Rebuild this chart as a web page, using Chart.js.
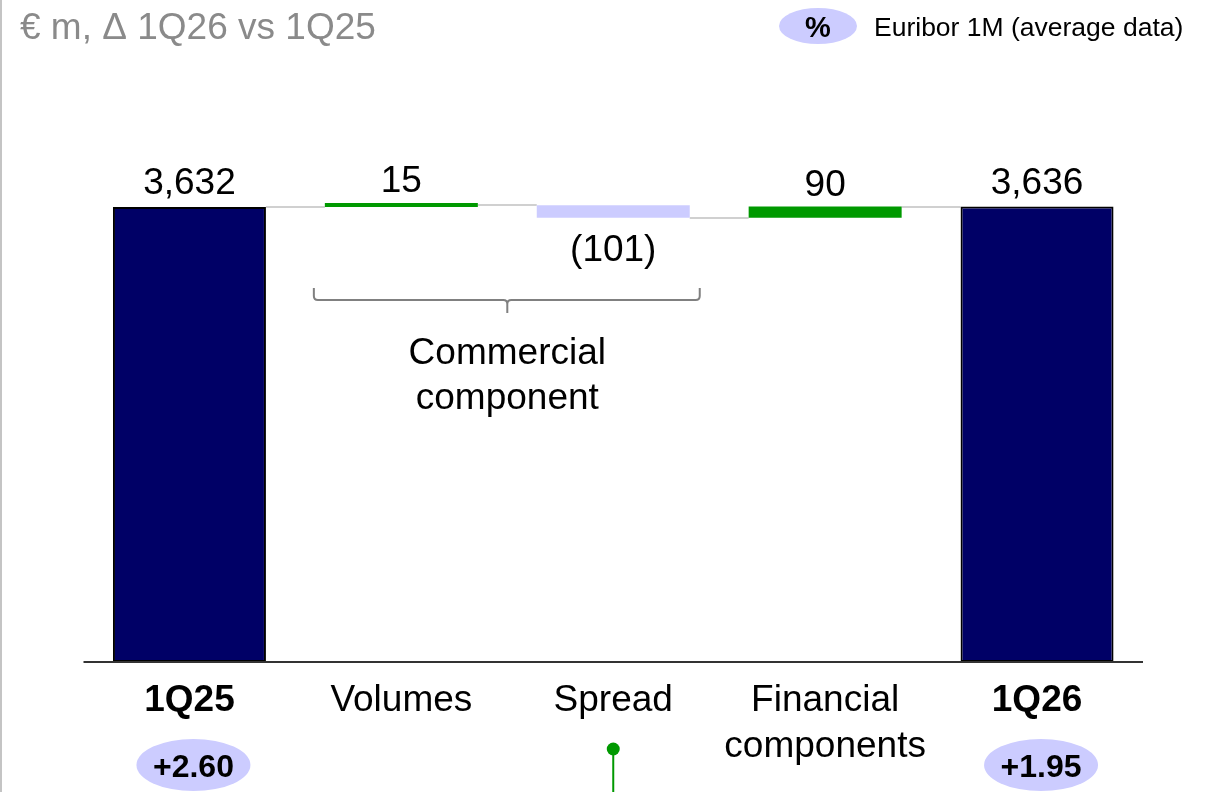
<!DOCTYPE html>
<html>
<head>
<meta charset="utf-8">
<script src="https://cdn.jsdelivr.net/npm/chart.js@4.4.1/dist/chart.umd.min.js"></script>
<style>
  html, body { margin: 0; padding: 0; background: #ffffff; }
  #wrap { width: 1207px; height: 792px; position: relative; }
</style>
</head>
<body>
<div id="wrap"><canvas id="nii" width="1207" height="792"></canvas></div>
<script>
// Net interest income bridge, € m
const categories = ['1Q25', 'Volumes', 'Spread', ['Financial', 'components'], '1Q26'];
const values = [3632, 15, -101, 90, 3636];
const isTotal = [true, false, false, false, true];
const euribor = ['+2.60', null, null, null, '+1.95'];
const titleText = '€ m, \u0394 1Q26 vs 1Q25';
const legendSymbol = '%';
const legendText = 'Euribor 1M (average data)';
const groupLabel = ['Commercial', 'component'];
const groupFrom = 1;
const groupTo = 2;
const markerCategory = 2;

const FONT = "'Liberation Sans', Arial, Helvetica, sans-serif";
const NAVY = '#000066';
const GREEN = '#009900';
const LAVENDER = '#ccccff';

// Floating ranges for the waterfall, built from the values
const ranges = [];
const levels = [];
let running = 0;
values.forEach((v, i) => {
  if (isTotal[i]) {
    ranges.push([0, v]);
    running = v;
  } else {
    ranges.push([running, running + v]);
    running += v;
  }
  levels.push(running);
});

const colors = values.map((v, i) => isTotal[i] ? NAVY : (v >= 0 ? GREEN : LAVENDER));

function fmt(v, i) {
  if (isTotal[i]) return v.toLocaleString('en-US');
  return v < 0 ? '(' + Math.abs(v) + ')' : String(v);
}

const bridgePlugin = {
  id: 'bridge',
  beforeDatasetsDraw(chart) {
    const ctx = chart.ctx;
    const meta = chart.getDatasetMeta(0);
    const y = chart.scales.y;
    ctx.save();
    ctx.strokeStyle = '#d0d0d0';
    ctx.lineWidth = 2;
    for (let i = 0; i < meta.data.length - 1; i++) {
      const a = meta.data[i], b = meta.data[i + 1];
      const py = Math.round(y.getPixelForValue(levels[i]));
      ctx.beginPath();
      ctx.moveTo(a.x + a.width / 2, py);
      ctx.lineTo(b.x - b.width / 2, py);
      ctx.stroke();
    }
    ctx.restore();
  },
  afterDraw(chart) {
    const ctx = chart.ctx;
    const meta = chart.getDatasetMeta(0);
    const area = chart.chartArea;
    const y = chart.scales.y;
    ctx.save();

    // frame line on the left
    ctx.strokeStyle = '#c4c4c4';
    ctx.lineWidth = 2;
    ctx.beginPath();
    ctx.moveTo(1, 0);
    ctx.lineTo(1, chart.height);
    ctx.stroke();

    // base line
    ctx.strokeStyle = '#333333';
    ctx.lineWidth = 2;
    const baseY = y.getPixelForValue(0);
    ctx.beginPath();
    ctx.moveTo(area.left, baseY);
    ctx.lineTo(area.right, baseY);
    ctx.stroke();

    // title
    ctx.fillStyle = '#8a8a8a';
    ctx.font = '37px ' + FONT;
    ctx.textAlign = 'left';
    ctx.textBaseline = 'alphabetic';
    ctx.fillText(titleText, 20, 39);

    // legend
    ctx.fillStyle = LAVENDER;
    ctx.beginPath();
    ctx.ellipse(818, 26, 39, 18, 0, 0, Math.PI * 2);
    ctx.fill();
    ctx.fillStyle = '#000000';
    ctx.font = 'bold 29px ' + FONT;
    ctx.textAlign = 'center';
    ctx.textBaseline = 'alphabetic';
    ctx.fillText(legendSymbol, 818, 37);
    ctx.font = '26.5px ' + FONT;
    ctx.textAlign = 'left';
    ctx.fillText(legendText, 874, 36);

    // value labels
    ctx.font = '37px ' + FONT;
    ctx.textAlign = 'center';
    ctx.fillStyle = '#000000';
    meta.data.forEach((bar, i) => {
      const v = values[i];
      const top = Math.min(bar.y, bar.base);
      const bottom = Math.max(bar.y, bar.base);
      if (v >= 0) {
        ctx.fillText(fmt(v, i), bar.x, isTotal[i] ? top - 13 : top - 11);
      } else {
        ctx.fillText(fmt(v, i), bar.x, bottom + 43);
      }
    });

    // category labels
    meta.data.forEach((bar, i) => {
      const lab = categories[i];
      const lines = Array.isArray(lab) ? lab : [lab];
      ctx.font = (isTotal[i] ? 'bold ' : '') + '37px ' + FONT;
      lines.forEach((t, k) => ctx.fillText(t, bar.x, 711 + k * 46));
    });

    // Euribor badges
    meta.data.forEach((bar, i) => {
      if (!euribor[i]) return;
      const cx = bar.x + 4;
      ctx.fillStyle = LAVENDER;
      ctx.beginPath();
      ctx.ellipse(cx, 765, 57, 26, 0, 0, Math.PI * 2);
      ctx.fill();
      ctx.fillStyle = '#000000';
      ctx.font = 'bold 32px ' + FONT;
      ctx.fillText(euribor[i], cx, 777);
    });

    // marker under spread
    const mb = meta.data[markerCategory];
    ctx.strokeStyle = GREEN;
    ctx.lineWidth = 2;
    ctx.beginPath();
    ctx.moveTo(mb.x, 749);
    ctx.lineTo(mb.x, chart.height);
    ctx.stroke();
    ctx.fillStyle = GREEN;
    ctx.beginPath();
    ctx.arc(mb.x, 749, 6.5, 0, Math.PI * 2);
    ctx.fill();

    // bracket grouping the commercial component
    const b1 = meta.data[groupFrom], b2 = meta.data[groupTo];
    const x1 = b1.x - b1.width / 2 - 11;
    const x2 = b2.x + b2.width / 2 + 10;
    const xm = (b1.x + b2.x) / 2;
    const yTop = 288, yMid = 300, yTip = 313, r = 4;
    ctx.strokeStyle = '#808080';
    ctx.lineWidth = 2;
    ctx.beginPath();
    ctx.moveTo(x1, yTop);
    ctx.lineTo(x1, yMid - r);
    ctx.quadraticCurveTo(x1, yMid, x1 + r, yMid);
    ctx.lineTo(xm - r, yMid);
    ctx.quadraticCurveTo(xm, yMid, xm, yMid + r);
    ctx.lineTo(xm, yTip);
    ctx.moveTo(xm, yMid + r);
    ctx.quadraticCurveTo(xm, yMid, xm + r, yMid);
    ctx.lineTo(x2 - r, yMid);
    ctx.quadraticCurveTo(x2, yMid, x2, yMid - r);
    ctx.lineTo(x2, yTop);
    ctx.stroke();
    ctx.fillStyle = '#000000';
    ctx.font = '37px ' + FONT;
    ctx.textAlign = 'center';
    groupLabel.forEach((t, k) => ctx.fillText(t, xm, 364 + k * 45));

    ctx.restore();
  }
};

new Chart(document.getElementById('nii'), {
  type: 'bar',
  data: {
    labels: categories,
    datasets: [{
      data: ranges,
      backgroundColor: colors,
      borderColor: values.map((v, i) => isTotal[i] ? '#000000' : colors[i]),
      borderWidth: values.map((v, i) => isTotal[i] ? 2 : 0),
      borderSkipped: false,
      barPercentage: 0.722,
      categoryPercentage: 1,
      minBarLength: 4
    }]
  },
  options: {
    responsive: false,
    animation: false,
    layout: { padding: { left: 83.5, right: 64, top: 161, bottom: 130 } },
    scales: {
      x: { display: false, offset: true },
      y: { display: false, min: 0, max: 4000 }
    },
    plugins: { legend: { display: false }, tooltip: { enabled: false } }
  },
  plugins: [bridgePlugin]
});
</script>
</body>
</html>
